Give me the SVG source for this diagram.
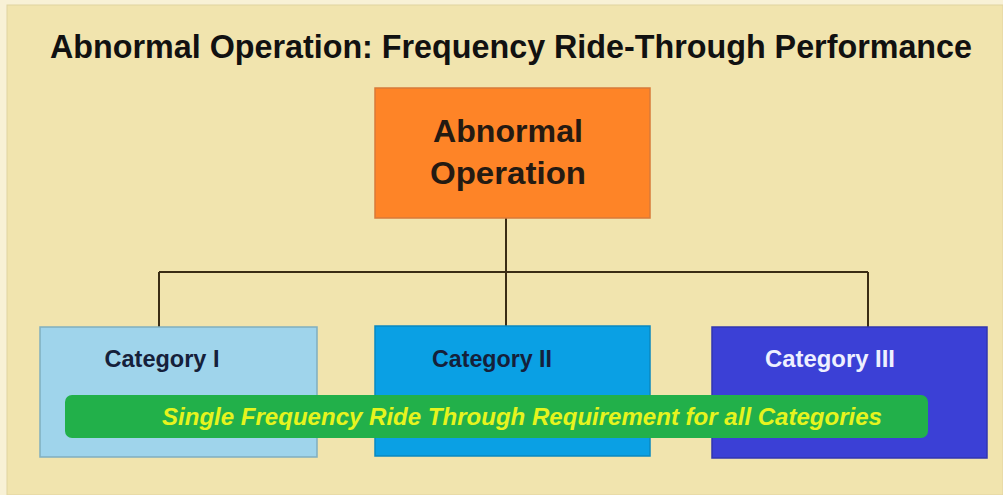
<svg xmlns="http://www.w3.org/2000/svg" width="1003" height="495" viewBox="0 0 1003 495">
<style>
.t{font-family:"Liberation Sans",Arial,sans-serif;font-weight:bold}
.cat{font-size:23px;fill:#15203a}
.conn{stroke:#3a2c14;stroke-width:2;fill:none}
.box{stroke-width:1.5}
</style>
<rect x="0" y="0" width="1003" height="495" fill="#f8f1d6"/>
<rect x="7" y="5" width="996" height="490" fill="#f1e4ae" stroke="#e0d3a0" stroke-width="1"/>
<text class="t" x="511" y="58" font-size="33" text-anchor="middle" fill="#111" textLength="922" lengthAdjust="spacingAndGlyphs">Abnormal Operation: Frequency Ride-Through Performance</text>
<g id="connectors">
<path class="conn" d="M506 218 V326"/>
<path class="conn" d="M159 272 H868"/>
<path class="conn" d="M159 272 V327"/>
<path class="conn" d="M868 272 V327"/>
</g>
<g id="abnormal">
<rect class="box" x="375" y="88" width="275" height="130" fill="#fe8427" stroke="#d87a3a"/>
<text class="t" x="508" y="142" font-size="32" text-anchor="middle" fill="#241a12" textLength="150" lengthAdjust="spacingAndGlyphs">Abnormal</text>
<text class="t" x="508" y="184" font-size="32" text-anchor="middle" fill="#241a12" textLength="156" lengthAdjust="spacingAndGlyphs">Operation</text>
</g>
<g id="cat1">
<rect class="box" x="40" y="327" width="277" height="130" fill="#9fd4eb" stroke="#80aebf"/>
<text class="t cat" x="162" y="367" text-anchor="middle" textLength="115" lengthAdjust="spacingAndGlyphs">Category I</text>
</g>
<g id="cat2">
<rect class="box" x="375" y="326" width="275" height="130" fill="#0aa0e4" stroke="#0a88c0"/>
<text class="t cat" x="492" y="367" text-anchor="middle" textLength="120" lengthAdjust="spacingAndGlyphs">Category II</text>
</g>
<g id="cat3">
<rect class="box" x="712" y="327" width="275" height="131" fill="#3b40d6" stroke="#3236b0"/>
<text class="t" x="830" y="367" font-size="23" text-anchor="middle" fill="#eef0ff" textLength="130" lengthAdjust="spacingAndGlyphs">Category III</text>
</g>
<g id="requirement">
<rect x="65" y="395" width="863" height="43" rx="7" fill="#22b04a"/>
<text class="t" x="522" y="425" font-size="23" font-style="italic" text-anchor="middle" fill="#e6f41e" textLength="720" lengthAdjust="spacingAndGlyphs">Single Frequency Ride Through Requirement for all Categories</text>
</g>
</svg>
